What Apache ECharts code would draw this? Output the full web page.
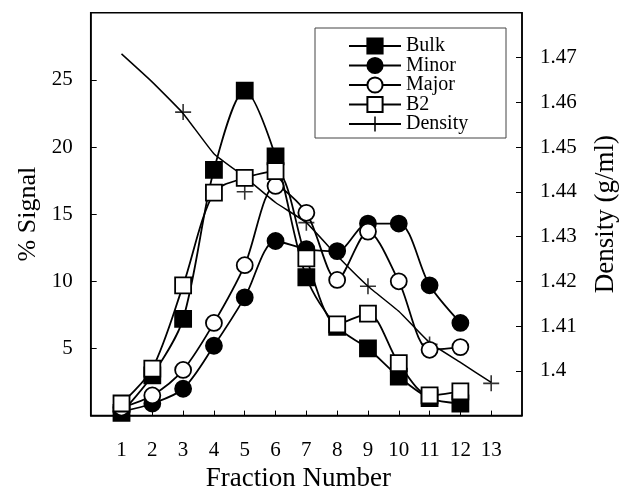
<!DOCTYPE html>
<html>
<head>
<meta charset="utf-8">
<script src="https://cdn.jsdelivr.net/npm/echarts@6/dist/echarts.min.js"></script>
<style>
html,body{margin:0;padding:0;background:#fff;}
#chart{width:620px;height:491px;}
</style>
</head>
<body>
<div id="chart"></div>
<script>
//数据
var fractions = [1,2,3,4,5,6,7,8,9,10,11,12];
var bulkData  = [0.2, 3.0, 7.2, 18.3, 24.2, 19.3, 10.3, 6.6, 5.0, 2.9, 1.3, 0.9];
var minorData = [0.3, 0.9, 2.0, 5.2, 8.8, 13.0, 12.4, 12.25, 14.3, 14.3, 9.7, 6.9];
var majorData = [0.6, 1.5, 3.4, 6.9, 11.2, 17.1, 15.1, 10.1, 13.7, 10.0, 4.9, 5.1];
var b2Data    = [0.9, 3.5, 9.7, 16.6, 17.7, 18.2, 11.7, 6.8, 7.6, 3.9, 1.5, 1.8];
//密度趋势线
var densityX    = [1,2,3,4,5,6,7,8,9,10,11,12,13];
var densityLine = [1.4708, 1.4645, 1.4575, 1.4485, 1.4433, 1.4376, 1.4331, 1.4257, 1.4189, 1.4133, 1.4063, 1.4019, 1.3974];
//密度测量点
var densityPtX  = [3,5,7,9,11,13];
var densityPts  = [1.4578, 1.4400, 1.4331, 1.4189, 1.4059, 1.3972];

var seriesNames = ['Bulk','Minor','Major','B2','Density'];
var serif = 'Liberation Serif';
var plusPath = 'path://M-1,-10H1V-1H10V1H1V10H-1V1H-10V-1H-1Z';

function pairs(xs, ys){
	var arr = [];
	for (var i = 0; i < xs.length; i++){
		arr.push([xs[i], ys[i]]);
	}
	return arr;
}

function markSeries(name, data, symbol, filled){
	return {
		name: name,
		type: 'line',
		yAxisIndex: 0,
		smooth: 0.3,
		symbol: symbol,
		symbolSize: 16,
		showAllSymbol: true,
		lineStyle: { color: '#000', width: 1.8 },
		itemStyle: {
			color: filled ? '#000' : '#fff',
			borderColor: '#000',
			borderWidth: 1.8
		},
		emphasis: { disabled: true },
		data: pairs(fractions, data)
	};
}

var chart = echarts.init(document.getElementById('chart'));
var option = {
	animation: false,
	grid: {
		left: 90.7,
		right: 98,
		top: 12.7,
		bottom: 75.4,
		containLabel: false,
		outerBoundsMode: 'none',
		show: true,
		borderColor: '#000',
		borderWidth: 1.5
	},
	legend: {
		data: seriesNames,
		orient: 'vertical',
		left: 348,
		top: 36,
		padding: 0,
		itemWidth: 52,
		itemHeight: 19,
		itemGap: -0.5,
		selectedMode: false,
		textStyle: { fontFamily: serif, fontSize: 20, color: '#000' }
	},
	graphic: [{
		type: 'rect',
		shape: { x: 315, y: 28, width: 191, height: 110 },
		style: { fill: 'none', stroke: '#444', lineWidth: 1 },
		z: 100
	}],
	xAxis: {
		type: 'value',
		min: 0,
		max: 14,
		interval: 1,
		name: 'Fraction Number',
		nameLocation: 'middle',
		nameGap: 49,
		nameTextStyle: { fontFamily: serif, fontSize: 27, color: '#000', padding: [0, 16, 0, 0] },
		axisLine: { lineStyle: { color: '#000', width: 1.5 } },
		axisTick: { inside: true, length: 5, lineStyle: { color: '#000' } },
		axisLabel: {
			showMinLabel: false,
			showMaxLabel: false,
			margin: 24,
			fontFamily: serif,
			fontSize: 21,
			color: '#000'
		},
		splitLine: { show: false }
	},
	yAxis: [{
		type: 'value',
		min: 0,
		max: 30,
		interval: 5,
		name: '% Signal',
		nameLocation: 'middle',
		nameGap: 48,
		nameTextStyle: { fontFamily: serif, fontSize: 26, color: '#000' },
		axisLine: { show: true, lineStyle: { color: '#000', width: 1.5 } },
		axisTick: { show: true, inside: true, length: 6, lineStyle: { color: '#000' } },
		axisLabel: {
			showMinLabel: false,
			showMaxLabel: false,
			margin: 18,
			fontFamily: serif,
			fontSize: 21,
			color: '#000'
		},
		splitLine: { show: false }
	}, {
		type: 'value',
		position: 'right',
		min: 1.39,
		max: 1.48,
		interval: 0.01,
		name: 'Density (g/ml)',
		nameLocation: 'middle',
		nameGap: 70,
		nameTextStyle: { fontFamily: serif, fontSize: 27, color: '#000' },
		axisLine: { show: true, lineStyle: { color: '#000', width: 1.5 } },
		axisTick: { show: true, inside: true, length: 6, lineStyle: { color: '#000' } },
		axisLabel: {
			showMinLabel: false,
			showMaxLabel: false,
			margin: 18,
			fontFamily: serif,
			fontSize: 21,
			color: '#000',
			formatter: function(v){ return String(Math.round(v * 100) / 100); }
		},
		splitLine: { show: false }
	}],
	series: [
		markSeries('Bulk', bulkData, 'rect', true),
		markSeries('Minor', minorData, 'circle', true),
		markSeries('Major', majorData, 'circle', false),
		markSeries('B2', b2Data, 'rect', false),
		{
			name: 'Density',
			type: 'line',
			yAxisIndex: 1,
			smooth: 0.12,
			symbol: plusPath,
			symbolSize: 14,
			showSymbol: false,
			lineStyle: { color: '#000', width: 1.5 },
			itemStyle: { color: '#000' },
			emphasis: { disabled: true },
			data: pairs(densityX, densityLine)
		},
		{
			name: 'DensityPts',
			type: 'scatter',
			yAxisIndex: 1,
			symbol: plusPath,
			symbolSize: 16,
			itemStyle: { color: '#000' },
			emphasis: { disabled: true },
			data: pairs(densityPtX, densityPts)
		}
	]
};
chart.setOption(option);
</script>
</body>
</html>
